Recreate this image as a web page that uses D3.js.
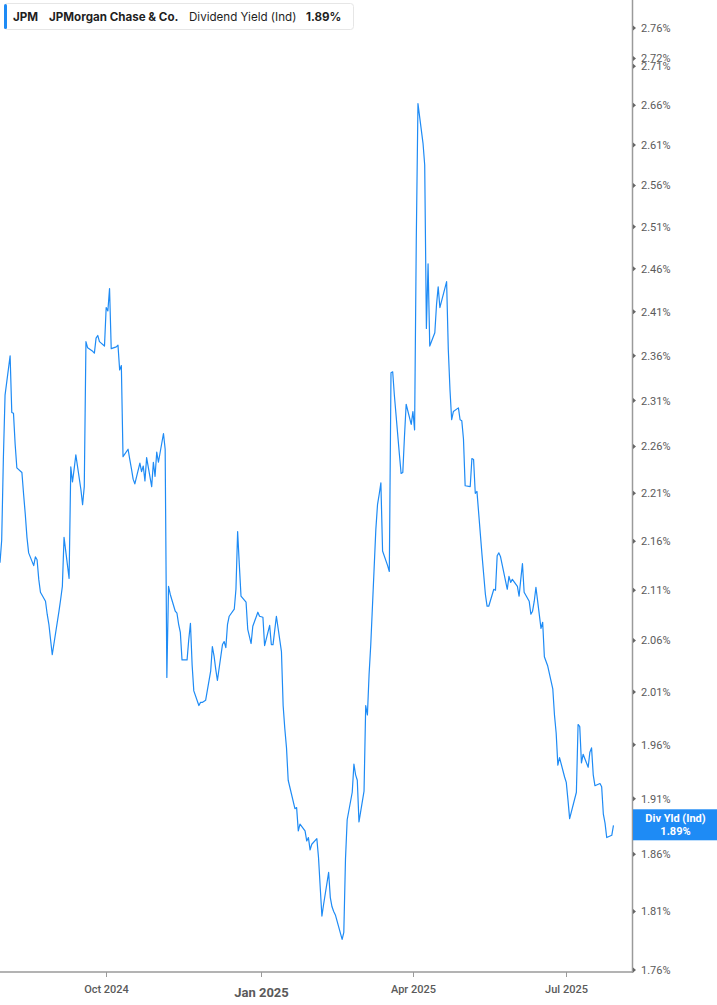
<!DOCTYPE html>
<html>
<head>
<meta charset="utf-8">
<script src="https://cdn.jsdelivr.net/npm/d3@7"></script>
<style>
  html, body { margin: 0; padding: 0; background: #fff; }
  svg { display: block; }
</style>
</head>
<body>
<div id="chart"></div>
<script>
const ticker = "JPM";
const company = "JPMorgan Chase & Co.";
const metric = "Dividend Yield (Ind)";
const endLabel = "Div Yld (Ind)";

const dates = [
"2024-07-30","2024-07-31","2024-08-01","2024-08-02","2024-08-05","2024-08-06","2024-08-07","2024-08-08","2024-08-09",
"2024-08-12","2024-08-13","2024-08-14","2024-08-15","2024-08-16","2024-08-19","2024-08-20","2024-08-21","2024-08-22","2024-08-23",
"2024-08-26","2024-08-27","2024-08-28","2024-08-29","2024-08-30","2024-09-03","2024-09-04","2024-09-05","2024-09-06",
"2024-09-09","2024-09-10","2024-09-11","2024-09-12","2024-09-13","2024-09-16","2024-09-17","2024-09-18","2024-09-19","2024-09-20",
"2024-09-23","2024-09-24","2024-09-25","2024-09-26","2024-09-27","2024-09-30","2024-10-01","2024-10-02","2024-10-03","2024-10-04",
"2024-10-07","2024-10-08","2024-10-09","2024-10-10","2024-10-11","2024-10-14","2024-10-15","2024-10-16","2024-10-17","2024-10-18",
"2024-10-21","2024-10-22","2024-10-23","2024-10-24","2024-10-25","2024-10-28","2024-10-29","2024-10-30","2024-10-31","2024-11-01",
"2024-11-04","2024-11-05","2024-11-06","2024-11-07","2024-11-08","2024-11-11","2024-11-12","2024-11-13","2024-11-14","2024-11-15",
"2024-11-18","2024-11-19","2024-11-20","2024-11-21","2024-11-22","2024-11-25","2024-11-26","2024-11-27","2024-11-29",
"2024-12-02","2024-12-03","2024-12-04","2024-12-05","2024-12-06","2024-12-09","2024-12-10","2024-12-11","2024-12-12","2024-12-13",
"2024-12-16","2024-12-17","2024-12-18","2024-12-19","2024-12-20","2024-12-23","2024-12-24","2024-12-26","2024-12-27",
"2024-12-30","2024-12-31","2025-01-02","2025-01-03","2025-01-06","2025-01-07","2025-01-08","2025-01-10",
"2025-01-13","2025-01-14","2025-01-15","2025-01-16","2025-01-17","2025-01-21","2025-01-22","2025-01-23","2025-01-24",
"2025-01-27","2025-01-28","2025-01-29","2025-01-30","2025-01-31","2025-02-03","2025-02-04","2025-02-05","2025-02-06","2025-02-07",
"2025-02-10","2025-02-11","2025-02-12","2025-02-13","2025-02-14","2025-02-18","2025-02-19","2025-02-20","2025-02-21",
"2025-02-24","2025-02-25","2025-02-26","2025-02-27","2025-02-28","2025-03-03","2025-03-04","2025-03-05","2025-03-06","2025-03-07",
"2025-03-10","2025-03-11","2025-03-12","2025-03-13","2025-03-14","2025-03-17","2025-03-18","2025-03-19","2025-03-20","2025-03-21",
"2025-03-24","2025-03-25","2025-03-26","2025-03-27","2025-03-28","2025-03-31","2025-04-01","2025-04-02","2025-04-03","2025-04-04",
"2025-04-07","2025-04-08","2025-04-09","2025-04-10","2025-04-11","2025-04-14","2025-04-15","2025-04-16","2025-04-17",
"2025-04-21","2025-04-22","2025-04-23","2025-04-24","2025-04-25","2025-04-28","2025-04-29","2025-04-30","2025-05-01","2025-05-02",
"2025-05-05","2025-05-06","2025-05-07","2025-05-08","2025-05-09","2025-05-12","2025-05-13","2025-05-14","2025-05-15","2025-05-16",
"2025-05-19","2025-05-20","2025-05-21","2025-05-22","2025-05-23","2025-05-27","2025-05-28","2025-05-29","2025-05-30",
"2025-06-02","2025-06-03","2025-06-04","2025-06-05","2025-06-06","2025-06-09","2025-06-10","2025-06-11","2025-06-12","2025-06-13",
"2025-06-16","2025-06-17","2025-06-18","2025-06-20","2025-06-23","2025-06-24","2025-06-25","2025-06-26","2025-06-27",
"2025-06-30","2025-07-01","2025-07-02","2025-07-03","2025-07-07","2025-07-08","2025-07-09","2025-07-10","2025-07-11",
"2025-07-14","2025-07-15","2025-07-16","2025-07-17","2025-07-18","2025-07-21","2025-07-22","2025-07-23","2025-07-24","2025-07-25",
"2025-07-28","2025-07-29"
];

const yields = [
2.138,2.161,2.247,2.316,2.360,2.297,2.296,2.262,2.237,
2.232,2.209,2.188,2.164,2.148,2.135,2.144,2.141,2.121,2.108,
2.099,2.086,2.076,2.061,2.046,2.089,2.101,2.114,2.164,
2.122,2.238,2.222,2.236,2.251,2.214,2.198,2.217,2.376,2.369,
2.365,2.363,2.380,2.383,2.376,2.371,2.415,2.411,2.437,2.368,
2.370,2.372,2.344,2.349,2.249,2.257,2.246,2.236,2.225,2.220,
2.242,2.233,2.239,2.223,2.248,2.217,2.243,2.228,2.254,2.243,
2.274,2.257,2.024,2.114,2.106,2.089,2.087,2.076,2.068,2.041,
2.041,2.061,2.077,2.036,2.011,1.997,2.000,2.000,2.002,
2.030,2.054,2.045,2.032,2.021,2.056,2.059,2.053,2.076,2.084,
2.091,2.111,2.170,2.136,2.104,2.098,2.071,2.057,2.074,
2.088,2.084,2.083,2.055,2.075,2.056,2.056,2.084,
2.049,1.997,1.975,1.957,1.927,1.901,1.902,1.881,1.887,
1.881,1.872,1.875,1.864,1.869,1.874,1.857,1.831,1.806,1.816,
1.844,1.822,1.814,1.810,1.807,1.786,1.792,1.856,1.891,
1.916,1.942,1.932,1.927,1.889,1.917,1.997,1.988,2.027,2.056,
2.172,2.198,2.209,2.221,2.150,2.135,2.129,2.341,2.342,2.316,
2.251,2.231,2.232,2.271,2.306,2.284,2.298,2.278,2.494,2.662,
2.612,2.585,2.391,2.466,2.371,2.386,2.418,2.439,2.415,
2.445,2.367,2.322,2.289,2.298,2.302,2.289,2.288,2.268,2.218,
2.217,2.247,2.246,2.210,2.212,2.146,2.126,2.106,2.094,2.094,
2.111,2.110,2.145,2.148,2.144,2.111,2.124,2.118,2.121,
2.114,2.104,2.121,2.137,2.108,2.099,2.086,2.089,2.099,2.113,
2.072,2.078,2.044,2.035,2.013,1.988,1.971,1.941,1.948,
1.930,1.925,1.909,1.892,1.916,1.979,1.977,1.943,1.951,
1.939,1.953,1.957,1.932,1.922,1.924,1.921,1.896,1.888,1.875,
1.877,1.886
];

const yTicks = [2.76, 2.72, 2.71, 2.66, 2.61, 2.56, 2.51, 2.46, 2.41, 2.36, 2.31, 2.26, 2.21, 2.16, 2.11, 2.06, 2.01, 1.96, 1.91, 1.86, 1.81, 1.76];
const xTickDates = ["2024-10-01", "2025-01-01", "2025-04-01", "2025-07-01"];
const xTickLabels = ["Oct 2024", "Jan 2025", "Apr 2025", "Jul 2025"];
const xTickBold = [false, true, false, false];

const W = 717, H = 1005;
const plotRight = 632, plotBottom = 972;
const parse = d3.timeParse("%Y-%m-%d");
const data = dates.map((d, i) => ({ date: parse(d), value: yields[i] }));
const lastValue = yields[yields.length - 1];

const x = d3.scaleTime()
  .domain([new Date(2024, 6, 30), new Date(2025, 7, 9)])
  .range([0, plotRight]);
const y = d3.scaleLog()
  .domain([1.7584, 2.797])
  .range([plotBottom, 0]);

const svg = d3.select("#chart").append("svg")
  .attr("width", W).attr("height", H);

const axisColor = "#9a9a9a";
const textColor = "#5a5a5a";
const lineColor = "#1e8bf5";

// line
const line = d3.line().x(d => x(d.date)).y(d => y(d.value));
svg.append("path").datum(data)
  .attr("d", line)
  .attr("fill", "none")
  .attr("stroke", lineColor)
  .attr("stroke-width", 1.2)
  .attr("stroke-linejoin", "round");

// x axis
const xAxis = svg.append("g");
xAxis.append("line")
  .attr("x1", 0).attr("x2", plotRight)
  .attr("y1", plotBottom).attr("y2", plotBottom)
  .attr("stroke", axisColor).attr("stroke-width", 1.5);
xTickDates.forEach((ds, i) => {
  const xx = Math.round(x(parse(ds))) + 0.5;
  xAxis.append("line")
    .attr("x1", xx).attr("x2", xx)
    .attr("y1", plotBottom).attr("y2", plotBottom + 5)
    .attr("stroke", axisColor).attr("stroke-width", 1);
  xAxis.append("text")
    .attr("x", xx).attr("y", xTickBold[i] ? 997 : 993)
    .attr("text-anchor", "middle")
    .attr("font-family", "Roboto, 'Liberation Sans', sans-serif")
    .attr("font-size", xTickBold[i] ? 13 : 11)
    .attr("font-weight", xTickBold[i] ? 700 : 500)
    .attr("fill", textColor)
    .text(xTickLabels[i]);
});

// y axis
const yAxis = svg.append("g");
yAxis.append("line")
  .attr("x1", plotRight + 0.5).attr("x2", plotRight + 0.5)
  .attr("y1", 0).attr("y2", plotBottom + 1)
  .attr("stroke", axisColor).attr("stroke-width", 1.5);
yTicks.forEach(t => {
  const yy = y(t);
  yAxis.append("path")
    .attr("d", `M${plotRight + 1},${yy - 2.5}L${plotRight + 4},${yy}L${plotRight + 1},${yy + 2.5}Z`)
    .attr("fill", "#666");
  yAxis.append("text")
    .attr("x", plotRight + 9).attr("y", yy + 4)
    .attr("font-family", "Roboto, 'Liberation Sans', sans-serif")
    .attr("font-size", 11)
    .attr("fill", textColor)
    .text(d3.format(".2f")(t) + "%");
});

// end label
const ly = y(lastValue);
const lab = svg.append("g");
lab.append("rect")
  .attr("x", plotRight + 1).attr("y", ly - 16)
  .attr("width", W - plotRight - 1).attr("height", 31)
  .attr("fill", lineColor);
lab.append("text")
  .attr("x", (plotRight + W) / 2 + 1).attr("y", ly - 3)
  .attr("text-anchor", "middle")
  .attr("font-family", "Roboto, 'Liberation Sans', sans-serif")
  .attr("font-size", 11).attr("font-weight", 700)
  .attr("fill", "#fff").text(endLabel);
lab.append("text")
  .attr("x", (plotRight + W) / 2 + 1).attr("y", ly + 10)
  .attr("text-anchor", "middle")
  .attr("font-family", "Roboto, 'Liberation Sans', sans-serif")
  .attr("font-size", 11).attr("font-weight", 700)
  .attr("fill", "#fff").text(d3.format(".2f")(lastValue) + "%");

// legend
const lg = svg.append("g");
lg.append("rect")
  .attr("x", 4.5).attr("y", 3.5).attr("width", 349).attr("height", 26)
  .attr("rx", 3).attr("fill", "#fff")
  .attr("stroke", "#e6e6e6");
lg.append("rect")
  .attr("x", 4).attr("y", 4).attr("width", 3).attr("height", 25)
  .attr("rx", 1.5)
  .attr("fill", lineColor);
const legendFont = "Inter, 'Open Sans', sans-serif";
const legendItems = [
  { text: ticker, x: 13, w: 700 },
  { text: company, x: 49, w: 700 },
  { text: metric, x: 189, w: 400 },
  { text: d3.format(".2f")(lastValue) + "%", x: 306, w: 700 }
];
legendItems.forEach(it => {
  lg.append("text")
    .attr("x", it.x).attr("y", 21)
    .attr("font-family", legendFont)
    .attr("font-size", 11.6)
    .attr("font-weight", it.w)
    .attr("fill", "#1f1f1f")
    .text(it.text);
});
</script>
</body>
</html>
